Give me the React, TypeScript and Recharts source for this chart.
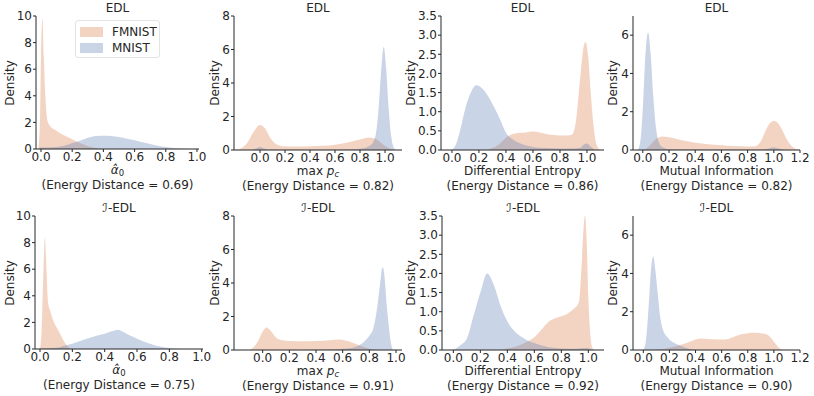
import React from 'react';
import { AreaChart, Area, XAxis, YAxis } from 'recharts';

type Pt = [number, number];

// ---------- data (x, density) ----------
const edlAlphaFMNIST: Pt[] = [[-0.018,0],[-0.008,1.5],[0.0,7],[0.01,9.8],[0.018,7],[0.028,4],[0.04,2.2],[0.06,1.7],[0.09,1.45],[0.12,1.2],[0.16,0.95],[0.21,0.68],[0.26,0.4],[0.31,0.18],[0.36,0.05],[0.4,0]];
const edlAlphaMNIST: Pt[] = [[-0.02,0],[0.0,0.12],[0.05,0.12],[0.1,0.15],[0.15,0.25],[0.2,0.45],[0.25,0.62],[0.3,0.85],[0.35,0.98],[0.4,1.0],[0.45,0.97],[0.5,0.9],[0.55,0.78],[0.6,0.65],[0.65,0.5],[0.7,0.38],[0.75,0.25],[0.8,0.15],[0.85,0.07],[0.9,0.03],[0.95,0]];

const edlMaxpFMNIST: Pt[] = [[-0.2,0],[-0.15,0.1],[-0.1,0.45],[-0.05,1.1],[0.0,1.5],[0.04,1.3],[0.08,0.75],[0.12,0.4],[0.16,0.26],[0.2,0.22],[0.3,0.21],[0.4,0.22],[0.5,0.25],[0.6,0.32],[0.7,0.45],[0.8,0.62],[0.87,0.75],[0.92,0.68],[0.97,0.42],[1.02,0.15],[1.06,0.03],[1.09,0]];
const edlMaxpMNIST: Pt[] = [[-0.06,0],[-0.03,0.1],[0.0,0.18],[0.03,0.1],[0.06,0.02],[0.1,0.01],[0.5,0.01],[0.7,0.03],[0.8,0.08],[0.85,0.15],[0.9,0.4],[0.93,1.1],[0.95,2.6],[0.97,4.8],[0.99,6.15],[1.01,4.8],[1.03,2.4],[1.05,0.8],[1.07,0.15],[1.09,0]];

const edlEntropyFMNIST: Pt[] = [[0.26,0],[0.3,0.05],[0.35,0.15],[0.4,0.32],[0.45,0.42],[0.5,0.45],[0.55,0.46],[0.6,0.48],[0.65,0.46],[0.7,0.42],[0.75,0.39],[0.8,0.38],[0.85,0.38],[0.89,0.4],[0.92,0.8],[0.95,1.9],[0.975,2.7],[0.99,2.82],[1.01,2.4],[1.03,1.4],[1.05,0.6],[1.07,0.15],[1.1,0]];
const edlEntropyMNIST: Pt[] = [[0.0,0],[0.03,0.15],[0.06,0.5],[0.1,1.1],[0.14,1.5],[0.18,1.69],[0.22,1.62],[0.26,1.45],[0.3,1.2],[0.35,0.85],[0.4,0.45],[0.45,0.28],[0.5,0.18],[0.6,0.08],[0.7,0.05],[0.8,0.04],[0.9,0.04],[0.95,0.06],[0.98,0.15],[1.0,0.17],[1.03,0.08],[1.06,0]];

const edlMutualFMNIST: Pt[] = [[0.0,0],[0.04,0.15],[0.08,0.45],[0.12,0.65],[0.15,0.7],[0.2,0.66],[0.26,0.58],[0.32,0.48],[0.4,0.38],[0.5,0.3],[0.6,0.25],[0.7,0.21],[0.8,0.18],[0.86,0.2],[0.9,0.45],[0.94,1.05],[0.97,1.4],[1.0,1.52],[1.03,1.42],[1.06,1.1],[1.1,0.55],[1.14,0.18],[1.18,0.02],[1.2,0]];
const edlMutualMNIST: Pt[] = [[-0.04,0],[-0.02,0.4],[0.0,2.2],[0.02,5.0],[0.04,6.15],[0.06,5.0],[0.08,2.8],[0.1,1.2],[0.12,0.45],[0.15,0.15],[0.2,0.05],[0.3,0.02],[0.9,0.02],[0.96,0.08],[1.0,0.15],[1.04,0.08],[1.08,0]];

const iedlAlphaFMNIST: Pt[] = [[0.0,0],[0.01,1.5],[0.02,5.5],[0.03,8.4],[0.04,6],[0.05,3.5],[0.065,2.8],[0.08,2.2],[0.1,1.7],[0.12,1.25],[0.14,0.75],[0.16,0.35],[0.18,0.1],[0.2,0]];
const iedlAlphaMNIST: Pt[] = [[-0.01,0],[0.02,0.05],[0.1,0.1],[0.15,0.25],[0.2,0.4],[0.25,0.6],[0.3,0.8],[0.35,1.0],[0.4,1.15],[0.45,1.35],[0.48,1.45],[0.5,1.38],[0.55,1.05],[0.6,0.78],[0.65,0.52],[0.7,0.32],[0.75,0.16],[0.8,0.07],[0.85,0.01],[0.88,0]];

const iedlMaxpFMNIST: Pt[] = [[-0.1,0],[-0.07,0.15],[-0.03,0.6],[0.0,1.1],[0.03,1.35],[0.06,1.15],[0.1,0.75],[0.15,0.58],[0.2,0.53],[0.3,0.52],[0.4,0.54],[0.5,0.58],[0.57,0.62],[0.62,0.56],[0.67,0.45],[0.72,0.3],[0.77,0.15],[0.82,0.05],[0.86,0]];
const iedlMaxpMNIST: Pt[] = [[0.3,0],[0.5,0.03],[0.6,0.07],[0.7,0.2],[0.76,0.5],[0.8,0.85],[0.83,1.3],[0.86,2.6],[0.88,3.9],[0.9,4.95],[0.915,4.3],[0.93,2.7],[0.945,1.5],[0.955,0.8],[0.965,0.3],[0.975,0.05],[0.985,0]];

const iedlEntropyFMNIST: Pt[] = [[0.35,0],[0.4,0.04],[0.45,0.08],[0.5,0.14],[0.55,0.22],[0.6,0.33],[0.65,0.52],[0.7,0.72],[0.75,0.82],[0.8,0.88],[0.85,0.96],[0.89,1.07],[0.93,1.25],[0.95,2.2],[0.965,3.2],[0.975,3.52],[0.99,2.6],[1.0,1.4],[1.015,0.4],[1.03,0.06],[1.045,0]];
const iedlEntropyMNIST: Pt[] = [[0.0,0],[0.05,0.12],[0.1,0.3],[0.15,0.9],[0.2,1.5],[0.25,2.0],[0.3,1.7],[0.35,1.15],[0.4,0.75],[0.45,0.5],[0.5,0.35],[0.55,0.25],[0.6,0.18],[0.7,0.08],[0.8,0.04],[0.9,0.03],[0.96,0.05],[0.99,0.06],[1.02,0.02],[1.05,0]];

const iedlMutualFMNIST: Pt[] = [[0.08,0],[0.15,0.05],[0.2,0.12],[0.25,0.2],[0.3,0.3],[0.35,0.42],[0.4,0.55],[0.45,0.6],[0.5,0.58],[0.55,0.56],[0.6,0.55],[0.65,0.58],[0.7,0.7],[0.75,0.82],[0.8,0.88],[0.85,0.9],[0.9,0.88],[0.95,0.8],[0.98,0.62],[1.01,0.35],[1.04,0.1],[1.07,0]];
const iedlMutualMNIST: Pt[] = [[0.0,0],[0.02,0.5],[0.04,2.2],[0.06,4.3],[0.077,4.9],[0.09,4.3],[0.11,3.0],[0.13,1.7],[0.15,1.07],[0.18,0.7],[0.2,0.55],[0.25,0.32],[0.3,0.18],[0.35,0.07],[0.4,0]];

const seriesNames = ['FMNIST', 'MNIST'];
const methodTitles = ['EDL', '\u2110-EDL'];
const metricLabels = ['alpha', 'maxp', 'Differential Entropy', 'Mutual Information'];
const energyDistances = [0.69, 0.82, 0.86, 0.82, 0.75, 0.91, 0.92, 0.90];

const xTicks10 = [0, 0.2, 0.4, 0.6, 0.8, 1.0];
const xTicks12 = [0, 0.2, 0.4, 0.6, 0.8, 1.0, 1.2];
const yTicksAlpha = [0, 2, 4, 6, 8, 10];
const yTicksMaxp = [0, 2, 4, 6, 8];
const yTicksEntropy = [0, 0.5, 1.0, 1.5, 2.0, 2.5, 3.0, 3.5];
const yTicksMutual = [0, 2, 4, 6];

// ---------- styling ----------
const FONT = '"DejaVu Sans", sans-serif';
const TXT = '#262626';
const ORANGE = '#dd8452';
const BLUE = '#4c72b0';
const FS = 12;

function merge(fm: Pt[], mn: Pt[]) {
  const rows = new Map<number, any>();
  fm.forEach(([x, y]) => { const r = rows.get(x) || { x }; r.fm = y; rows.set(x, r); });
  mn.forEach(([x, y]) => { const r = rows.get(x) || { x }; r.mn = y; rows.set(x, r); });
  return Array.from(rows.values()).sort((a, b) => a.x - b.x);
}

type Cfg = {
  L: number; T: number; R: number; B: number;
  xDomain: [number, number]; xTicks: number[];
  yDomain: [number, number]; yTicks: number[]; yDec: number;
  fm: Pt[]; mn: Pt[];
  title: string; metric: string; ed: number; ylX: number;
};

const panels: Cfg[] = [
  { L: 36, T: 16, R: 199, B: 149, xDomain: [-0.032, 1.013], xTicks: xTicks10, yDomain: [0, 10], yTicks: yTicksAlpha, yDec: 0, fm: edlAlphaFMNIST, mn: edlAlphaMNIST, title: methodTitles[0], metric: metricLabels[0], ed: energyDistances[0], ylX: 10 },
  { L: 234, T: 16, R: 402, B: 150, xDomain: [-0.208, 1.136], xTicks: xTicks10, yDomain: [0, 8], yTicks: yTicksMaxp, yDec: 0, fm: edlMaxpFMNIST, mn: edlMaxpMNIST, title: methodTitles[0], metric: metricLabels[1], ed: energyDistances[1], ylX: 215 },
  { L: 441, T: 16, R: 604, B: 150, xDomain: [-0.081, 1.126], xTicks: xTicks10, yDomain: [0, 3.5], yTicks: yTicksEntropy, yDec: 1, fm: edlEntropyFMNIST, mn: edlEntropyMNIST, title: methodTitles[0], metric: metricLabels[2], ed: energyDistances[2], ylX: 411 },
  { L: 633, T: 16, R: 800, B: 150, xDomain: [-0.075, 1.2], xTicks: xTicks12, yDomain: [0, 7], yTicks: yTicksMutual, yDec: 0, fm: edlMutualFMNIST, mn: edlMutualMNIST, title: methodTitles[0], metric: metricLabels[3], ed: energyDistances[3], ylX: 613 },
  { L: 35, T: 216, R: 203, B: 349, xDomain: [-0.031, 1.008], xTicks: xTicks10, yDomain: [0, 10], yTicks: yTicksAlpha, yDec: 0, fm: iedlAlphaFMNIST, mn: iedlAlphaMNIST, title: methodTitles[1], metric: metricLabels[0], ed: energyDistances[4], ylX: 10 },
  { L: 234, T: 216, R: 402, B: 350, xDomain: [-0.215, 1.045], xTicks: xTicks10, yDomain: [0, 8], yTicks: yTicksMaxp, yDec: 0, fm: iedlMaxpFMNIST, mn: iedlMaxpMNIST, title: methodTitles[1], metric: metricLabels[1], ed: energyDistances[5], ylX: 215 },
  { L: 442, T: 216, R: 604, B: 350, xDomain: [-0.084, 1.116], xTicks: xTicks10, yDomain: [0, 3.5], yTicks: yTicksEntropy, yDec: 1, fm: iedlEntropyFMNIST, mn: iedlEntropyMNIST, title: methodTitles[1], metric: metricLabels[2], ed: energyDistances[6], ylX: 411 },
  { L: 633, T: 216, R: 800, B: 350, xDomain: [-0.079, 1.2], xTicks: xTicks12, yDomain: [0, 7], yTicks: yTicksMutual, yDec: 0, fm: iedlMutualFMNIST, mn: iedlMutualMNIST, title: methodTitles[1], metric: metricLabels[3], ed: energyDistances[7], ylX: 613 },
];

const textBase: React.CSSProperties = {
  position: 'absolute', fontFamily: FONT, fontSize: FS, color: TXT,
  lineHeight: '14px', height: 14, whiteSpace: 'nowrap', textAlign: 'center',
};

const subStyle: React.CSSProperties = { fontSize: 8.5, position: 'relative', top: 2, lineHeight: '0px' };

function MetricLabel({ metric }: { metric: string }) {
  if (metric === 'alpha') {
    return <span><span style={{ fontStyle: 'italic' }}>{'\u03B1\u0302'}</span><span style={subStyle}>0</span></span>;
  }
  if (metric === 'maxp') {
    return <span>max <span style={{ fontStyle: 'italic' }}>p</span><span style={{ ...subStyle, fontStyle: 'italic' }}>c</span></span>;
  }
  return <span>{metric}</span>;
}

function Panel({ c }: { c: Cfg }) {
  const YW = 40, MT = 10, MR = 12, XH = 24;
  const data = merge(c.fm, c.mn);
  const cx = (c.L + c.R) / 2;
  const cy = (c.T + c.B) / 2;
  const tickStyle = { fill: TXT, fontSize: FS, fontFamily: FONT };
  return (
    <>
      <div style={{ position: 'absolute', left: c.L - YW, top: c.T - MT }}>
        <AreaChart width={YW + c.R - c.L + MR} height={MT + c.B - c.T + XH} data={data}
          margin={{ top: MT, right: MR, bottom: 0, left: 0 }}>
          <XAxis dataKey="x" type="number" domain={c.xDomain} allowDataOverflow ticks={c.xTicks}
            interval={0} tickFormatter={(v: number) => v.toFixed(1)} height={XH} tickSize={3} tickMargin={0}
            axisLine={{ stroke: TXT, strokeWidth: 1 }} tickLine={{ stroke: TXT }} tick={{ ...tickStyle, dy: '0.55em' }} />
          <YAxis type="number" domain={c.yDomain} allowDataOverflow ticks={c.yTicks} interval={0}
            tickFormatter={(v: number) => v.toFixed(c.yDec)} width={YW} tickSize={3} tickMargin={1}
            axisLine={{ stroke: TXT, strokeWidth: 1 }} tickLine={{ stroke: TXT }} tick={tickStyle} />
          <Area dataKey="fm" name={seriesNames[0]} type="monotone" fill={ORANGE} fillOpacity={0.35}
            stroke="none" connectNulls isAnimationActive={false} />
          <Area dataKey="mn" name={seriesNames[1]} type="monotone" fill={BLUE} fillOpacity={0.3}
            stroke="none" connectNulls isAnimationActive={false} />
        </AreaChart>
      </div>
      <div style={{ ...textBase, left: cx - 60, width: 120, top: c.T - 15 }}>{c.title}</div>
      <div style={{ ...textBase, left: cx - 80, width: 160, top: c.B + 14 }}><MetricLabel metric={c.metric} /></div>
      <div style={{ ...textBase, left: cx - 90, width: 180, top: c.B + 29 }}>{`(Energy Distance = ${c.ed.toFixed(2)})`}</div>
      <div style={{ ...textBase, left: c.ylX - 40, width: 80, top: cy - 7, transform: 'rotate(-90deg)' }}>Density</div>
    </>
  );
}

function Legend() {
  const row = (color: string, op: number, label: string, top: number) => (
    <div style={{ position: 'absolute', left: 4, top, height: 11, display: 'flex', alignItems: 'center' }}>
      <div style={{ width: 23, height: 10, background: color, opacity: op }} />
      <span style={{ marginLeft: 9, fontFamily: FONT, fontSize: FS, color: TXT, lineHeight: '14px' }}>{label}</span>
    </div>
  );
  return (
    <div style={{ position: 'absolute', left: 75, top: 20, width: 85, height: 38, background: 'rgba(255,255,255,0.8)', border: '1px solid #e3e3e3', borderRadius: 3, boxSizing: 'border-box' }}>
      {row(ORANGE, 0.35, seriesNames[0], 5)}
      {row(BLUE, 0.3, seriesNames[1], 21)}
    </div>
  );
}

export default function App() {
  return (
    <div style={{ position: 'absolute', left: 0, top: 0, width: 814, height: 396, background: '#fff', overflow: 'hidden' }}>
      {panels.map((c, i) => <Panel key={i} c={c} />)}
      <Legend />
    </div>
  );
}
